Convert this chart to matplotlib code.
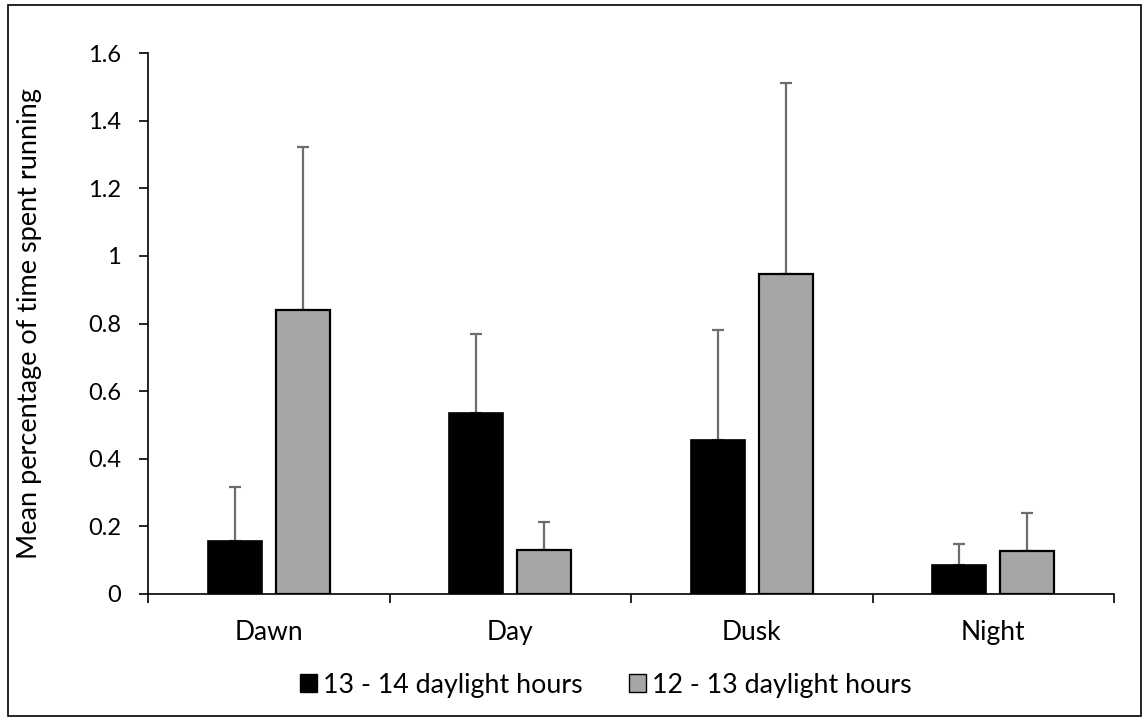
import matplotlib
matplotlib.use("Agg")
import matplotlib.pyplot as plt
from matplotlib.patches import Rectangle, Patch
import numpy as np

categories = ["Dawn", "Day", "Dusk", "Night"]
series_names = ["13 - 14 daylight hours", "12 - 13 daylight hours"]
long_days = [0.156, 0.534, 0.454, 0.085]
long_days_err = [0.159, 0.234, 0.327, 0.063]
short_days = [0.840, 0.131, 0.945, 0.127]
short_days_err = [0.481, 0.083, 0.567, 0.114]
yticks = [0, 0.2, 0.4, 0.6, 0.8, 1.0, 1.2, 1.4, 1.6]
yticklabels = ["0", "0.2", "0.4", "0.6", "0.8", "1", "1.2", "1.4", "1.6"]

plt.rcParams['font.family'] = ['Lato', 'DejaVu Sans']

W, H = 1143, 722
fig = plt.figure(figsize=(W / 100, H / 100), dpi=100)
fig.patch.set_facecolor("white")

# outer border
fig.add_artist(Rectangle((8 / W, 1 - 716 / H), (1141 - 8) / W, (716 - 5) / H,
                         transform=fig.transFigure, fill=False,
                         edgecolor="black", linewidth=1.2))

left, right = 148 / W, 1114 / W
top, bottom = 1 - 53 / H, 1 - 594 / H
ax = fig.add_axes([left, bottom, right - left, top - bottom])

x = np.arange(len(categories))
bw = 0.2236
off = (bw + 0.06) / 2
ekw = dict(ecolor="#6d6d6d", elinewidth=1.6, capsize=4, capthick=1.6)

ax.bar(x - off, long_days, bw, color="black", edgecolor="black", linewidth=1.2,
       label=series_names[0], zorder=2)
ax.errorbar(x - off, long_days, yerr=[np.zeros(4), long_days_err], fmt="none",
            zorder=1, **ekw)
ax.bar(x + off, short_days, bw, color="#a6a6a6", edgecolor="black", linewidth=1.6,
       label=series_names[1], zorder=2)
ax.errorbar(x + off, short_days, yerr=[np.zeros(4), short_days_err], fmt="none",
            zorder=1, **ekw)

ax.set_xlim(-0.5, len(categories) - 0.5)
ax.set_ylim(0, 1.6)
ax.set_yticks(yticks)
ax.set_yticklabels(yticklabels)
ax.set_xticks(np.arange(len(categories) + 1) - 0.5)
ax.set_xticklabels([])
ax.set_xticks(x, minor=True)
ax.set_xticklabels(categories, minor=True)
ax.tick_params(axis="x", which="minor", length=0, pad=19, labelsize=19)
ax.tick_params(axis="x", which="major", length=6.5, width=1.2, direction="out")
ax.tick_params(axis="y", length=6.5, width=1.2, direction="out", labelsize=17, pad=13)

for s in ["top", "right"]:
    ax.spines[s].set_visible(False)
ax.spines["left"].set_linewidth(1.2)
ax.spines["bottom"].set_linewidth(1.2)

ax.set_ylabel("Mean percentage of time spent running", fontsize=19.5)
ax.yaxis.set_label_coords((42 - 148) / (1114 - 148), 0.5)

handles = [Patch(facecolor="black", edgecolor="black", linewidth=1.0),
           Patch(facecolor="#a6a6a6", edgecolor="black", linewidth=1.0)]
fig.legend(handles, series_names, loc="center", bbox_to_anchor=(606 / W, 1 - 685 / H),
           ncol=2, frameon=False, fontsize=19.3, handlelength=0.63, handleheight=0.63,
           handletextpad=0.22, columnspacing=1.75)

fig.savefig("out.png", dpi=100, facecolor="white")
